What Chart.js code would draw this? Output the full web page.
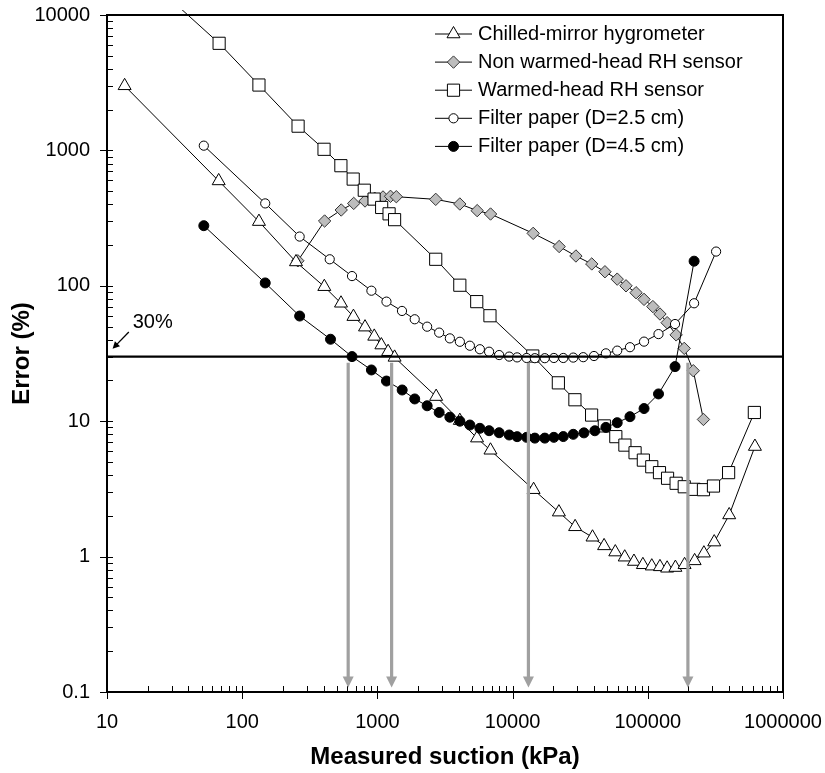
<!DOCTYPE html>
<html>
<head>
<meta charset="utf-8">
<script src="https://cdn.jsdelivr.net/npm/chart.js@4/dist/chart.umd.min.js"></script>
<style>
html,body{margin:0;padding:0;background:#fff;}
#wrap{width:825px;height:773px;}
</style>
</head>
<body>
<div id="wrap"><canvas id="c" width="825" height="773"></canvas></div>
<script>
// ---------- DATA ----------
const seriesNames = [
  'Chilled-mirror hygrometer',
  'Non warmed-head RH sensor',
  'Warmed-head RH sensor',
  'Filter paper (D=2.5 cm)',
  'Filter paper (D=4.5 cm)'
];

const chilledX = [13.5, 67, 133, 250, 405, 538, 665, 810, 948, 1070, 1200, 1340, 2720, 4070, 5460, 6860, 14300, 22000, 29000, 39000, 47500, 57500, 67500, 79000, 92000, 107000, 123000, 139000, 160000, 187000, 222000, 260000, 310000, 400000, 620000];
const chilledY = [3000, 595, 298, 150, 98.5, 74.3, 59.2, 49.5, 42.3, 36.5, 32.6, 29.6, 15.2, 10.1, 7.5, 6.1, 3.12, 2.13, 1.66, 1.39, 1.2, 1.08, 0.99, 0.92, 0.87, 0.85, 0.84, 0.82, 0.83, 0.87, 0.93, 1.06, 1.28, 2.03, 6.5];

const nonWarmedX = [258, 407, 540, 668, 810, 955, 1100, 1250, 1380, 2700, 4070, 5470, 6870, 14200, 22100, 29400, 38500, 48200, 59400, 69000, 81900, 93800, 109000, 123000, 139000, 162000, 186000, 217000, 258000];
const nonWarmedY = [153, 301, 363, 406, 423, 443, 453, 458, 455, 435, 402, 359, 339, 244, 195, 166, 145, 127, 112, 100, 88.9, 79.4, 70.2, 61.9, 53.4, 43.4, 34.5, 23.6, 10.3];

const warmedX = [33, 67.5, 133, 259, 403, 537, 662, 800, 945, 1075, 1220, 1340, 2700, 4070, 5430, 6800, 14100, 21800, 28900, 38400, 47700, 58000, 67700, 80500, 92700, 107000, 122000, 140000, 162000, 186000, 220000, 258000, 306000, 396000, 614000];
const warmedY = [11800, 6180, 3040, 1510, 1019, 771, 614, 508, 437, 379, 340, 308, 157, 101, 76.4, 60.1, 30.3, 19.2, 14.4, 11.1, 9.23, 7.69, 6.66, 5.85, 5.16, 4.61, 4.17, 3.79, 3.48, 3.28, 3.14, 3.12, 3.32, 4.17, 11.6];

const fp25X = [52, 148, 266, 444, 649, 903, 1167, 1520, 1888, 2333, 2863, 3436, 4074, 4830, 5727, 6700, 7950, 9440, 10800, 12700, 14600, 17300, 20200, 23700, 28100, 33300, 40000, 49000, 59400, 73800, 93800, 120000, 159000, 220000, 320000];
const fp25Y = [1084, 406, 231, 157, 118, 92, 76.4, 65.2, 56.6, 49.9, 45.1, 40.9, 38.6, 36.1, 34.0, 32.6, 30.8, 30.0, 29.6, 29.3, 29.2, 29.2, 29.3, 29.3, 29.5, 29.7, 30.3, 31.7, 33.2, 35.2, 38.7, 44.0, 52.2, 74.3, 179];

const fp45X = [52, 148, 266, 450, 649, 903, 1167, 1525, 1888, 2333, 2863, 3436, 4074, 4830, 5727, 6700, 7950, 9440, 10800, 12700, 14600, 17300, 20200, 23700, 28100, 33700, 40600, 49000, 59400, 73800, 93800, 120000, 159000, 220000];
const fp45Y = [278, 105, 59.8, 40.3, 30.0, 23.9, 19.8, 17.0, 14.6, 13.0, 11.6, 10.7, 10.0, 9.37, 8.86, 8.51, 8.22, 7.91, 7.69, 7.6, 7.5, 7.5, 7.6, 7.7, 8.0, 8.2, 8.5, 9.0, 9.75, 10.8, 12.4, 15.9, 25.3, 152];

const xTicks = [10, 100, 1000, 10000, 100000, 1000000];
const yTicks = [0.1, 1, 10, 100, 1000, 10000];
const refLineY = 30;
const refLabel = '30%';
const refLabelPos = [15.5, 54];     // x, y (data units)
const refArrowFrom = [14.5, 45.6];
const refArrowTo = [11.0, 34.3];

const arrowX = [608, 1274, 13090, 198000];
const arrowTopY = 27;
const arrowTipY = 0.108;

// ---------- CHART ----------
const pts = (xs, ys) => xs.map((x, i) => ({x: x, y: ys[i]}));
const FONT = "'Liberation Sans', Arial, Helvetica, sans-serif";
Chart.defaults.font.family = FONT;
Chart.defaults.color = '#000';

const base = {borderColor: '#000', borderWidth: 1, pointBorderColor: '#000', pointBorderWidth: 1, tension: 0, fill: false};

const datasets = [
  Object.assign({}, base, {label: seriesNames[0], data: pts(chilledX, chilledY), pointStyle: 'triangle', pointRadius: 7.5, pointBackgroundColor: '#fff', order: 4}),
  Object.assign({}, base, {label: seriesNames[1], data: pts(nonWarmedX, nonWarmedY), pointStyle: 'rectRot', pointRadius: 6.2, pointBackgroundColor: '#bdbdbd', pointBorderColor: '#333', order: 5}),
  Object.assign({}, base, {label: seriesNames[2], data: pts(warmedX, warmedY), pointStyle: 'rect', pointRadius: 8.6, pointBackgroundColor: '#fff', order: 3, clip: 5}),
  Object.assign({}, base, {label: seriesNames[3], data: pts(fp25X, fp25Y), pointStyle: 'circle', pointRadius: 4.6, pointBackgroundColor: '#fff', order: 2}),
  Object.assign({}, base, {label: seriesNames[4], data: pts(fp45X, fp45Y), pointStyle: 'circle', pointRadius: 5, pointBackgroundColor: '#000', order: 1}),
  {label: refLabel, data: [{x: xTicks[0], y: refLineY}, {x: xTicks[xTicks.length - 1], y: refLineY}], borderColor: '#000', borderWidth: 2.2, pointRadius: 0, order: 0}
];

const decor = {
  id: 'decor',
  beforeDatasetsDraw(chart) {
    const {ctx, chartArea: a, scales: {x, y}} = chart;
    ctx.save();
    ctx.strokeStyle = '#000';
    ctx.lineWidth = 1;
    ctx.beginPath();
    for (let e = 1; e < 6; e++) for (let m = 2; m <= 9; m++) {
      const px = Math.round(x.getPixelForValue(m * Math.pow(10, e))) + 0.5;
      ctx.moveTo(px, a.bottom); ctx.lineTo(px, a.bottom - 6);
    }
    xTicks.forEach(v => {
      const px = Math.round(x.getPixelForValue(v)) + 0.5;
      ctx.moveTo(px, a.bottom - 6); ctx.lineTo(px, a.bottom + 7);
    });
    for (let e = -1; e < 4; e++) for (let m = 2; m <= 9; m++) {
      const py = Math.round(y.getPixelForValue(m * Math.pow(10, e))) + 0.5;
      ctx.moveTo(a.left, py); ctx.lineTo(a.left + 6, py);
    }
    yTicks.forEach(v => {
      const py = Math.round(y.getPixelForValue(v)) + 0.5;
      ctx.moveTo(a.left - 7, py); ctx.lineTo(a.left + 6, py);
    });
    ctx.stroke();
    ctx.restore();
  },
  afterDatasetsDraw(chart) {
    const {ctx, chartArea: a, scales: {x, y}} = chart;
    ctx.save();
    // frame
    ctx.strokeStyle = '#000';
    ctx.lineWidth = 2;
    ctx.strokeRect(a.left, a.top, a.right - a.left, a.bottom - a.top);

    // gray arrows
    ctx.strokeStyle = '#a0a0a0';
    ctx.fillStyle = '#a0a0a0';
    ctx.lineWidth = 3.2;
    arrowX.forEach(v => {
      const px = x.getPixelForValue(v);
      const top = y.getPixelForValue(arrowTopY);
      const tip = y.getPixelForValue(arrowTipY);
      const hl = 11, hw = 5.5;
      ctx.beginPath(); ctx.moveTo(px, top); ctx.lineTo(px, tip - hl + 1); ctx.stroke();
      ctx.beginPath(); ctx.moveTo(px, tip); ctx.lineTo(px - hw, tip - hl); ctx.lineTo(px + hw, tip - hl); ctx.closePath(); ctx.fill();
    });

    // 30% label and arrow
    ctx.fillStyle = '#000';
    ctx.strokeStyle = '#000';
    ctx.font = '20px ' + FONT;
    ctx.textAlign = 'left';
    ctx.textBaseline = 'middle';
    ctx.fillText(refLabel, x.getPixelForValue(refLabelPos[0]), y.getPixelForValue(refLabelPos[1]));
    const fx = x.getPixelForValue(refArrowFrom[0]), fy = y.getPixelForValue(refArrowFrom[1]);
    const tx = x.getPixelForValue(refArrowTo[0]), ty = y.getPixelForValue(refArrowTo[1]);
    const ang = Math.atan2(ty - fy, tx - fx);
    ctx.lineWidth = 1.3;
    ctx.beginPath(); ctx.moveTo(fx, fy); ctx.lineTo(tx - 5 * Math.cos(ang), ty - 5 * Math.sin(ang)); ctx.stroke();
    ctx.beginPath();
    ctx.moveTo(tx, ty);
    ctx.lineTo(tx - 7 * Math.cos(ang) + 3.5 * Math.sin(ang), ty - 7 * Math.sin(ang) - 3.5 * Math.cos(ang));
    ctx.lineTo(tx - 7 * Math.cos(ang) - 3.5 * Math.sin(ang), ty - 7 * Math.sin(ang) + 3.5 * Math.cos(ang));
    ctx.closePath(); ctx.fill();

    // legend
    chart.data.datasets.slice(0, 5).forEach((ds, i) => {
      const ly = a.top + 19 + 28.1 * i;
      ctx.strokeStyle = '#000';
      ctx.lineWidth = 1;
      ctx.beginPath(); ctx.moveTo(a.left + 328, ly); ctx.lineTo(a.left + 365, ly); ctx.stroke();
      ctx.fillStyle = ds.pointBackgroundColor;
      ctx.strokeStyle = ds.pointBorderColor;
      ctx.lineWidth = ds.pointBorderWidth;
      Chart.helpers.drawPoint(ctx, {pointStyle: ds.pointStyle, radius: ds.pointRadius, borderWidth: ds.pointBorderWidth, rotation: 0}, a.left + 346.5, ly);
      ctx.fillStyle = '#000';
      ctx.font = '20px ' + FONT;
      ctx.textAlign = 'left';
      ctx.textBaseline = 'middle';
      ctx.fillText(ds.label, a.left + 371, ly);
    });
    ctx.restore();
  }
};

function noPad(s) { s.paddingTop = 0; s.paddingBottom = 0; s.paddingLeft = 0; s.paddingRight = 0; }

new Chart(document.getElementById('c'), {
  type: 'line',
  data: {datasets: datasets},
  options: {
    responsive: false,
    animation: false,
    devicePixelRatio: 1,
    layout: {padding: {top: 15, right: 42, left: 0, bottom: 0}},
    plugins: {legend: {display: false}, tooltip: {enabled: false}},
    scales: {
      x: {
        type: 'logarithmic', min: 10, max: 1000000,
        afterFit(s) { s.height = 81; noPad(s); },
        afterBuildTicks(s) { s.ticks = xTicks.map(v => ({value: v})); },
        grid: {display: false, drawTicks: false},
        border: {display: false},
        ticks: {font: {size: 20}, color: '#000', padding: 18, maxRotation: 0, autoSkip: false, callback: v => String(v)},
        title: {display: true, text: 'Measured suction (kPa)', font: {size: 24, weight: 'bold'}, color: '#000', padding: {top: 0, bottom: 1}}
      },
      y: {
        type: 'logarithmic', min: 0.1, max: 10000,
        afterFit(s) { s.width = 107; noPad(s); },
        afterBuildTicks(s) { s.ticks = yTicks.map(v => ({value: v})); },
        grid: {display: false, drawTicks: false},
        border: {display: false},
        ticks: {font: {size: 20}, color: '#000', padding: 17, autoSkip: false, callback: v => String(v)},
        title: {display: true, text: 'Error (%)', font: {size: 24, weight: 'bold'}, color: '#000', padding: {top: 8, bottom: 0}}
      }
    }
  },
  plugins: [decor]
});
</script>
</body>
</html>
